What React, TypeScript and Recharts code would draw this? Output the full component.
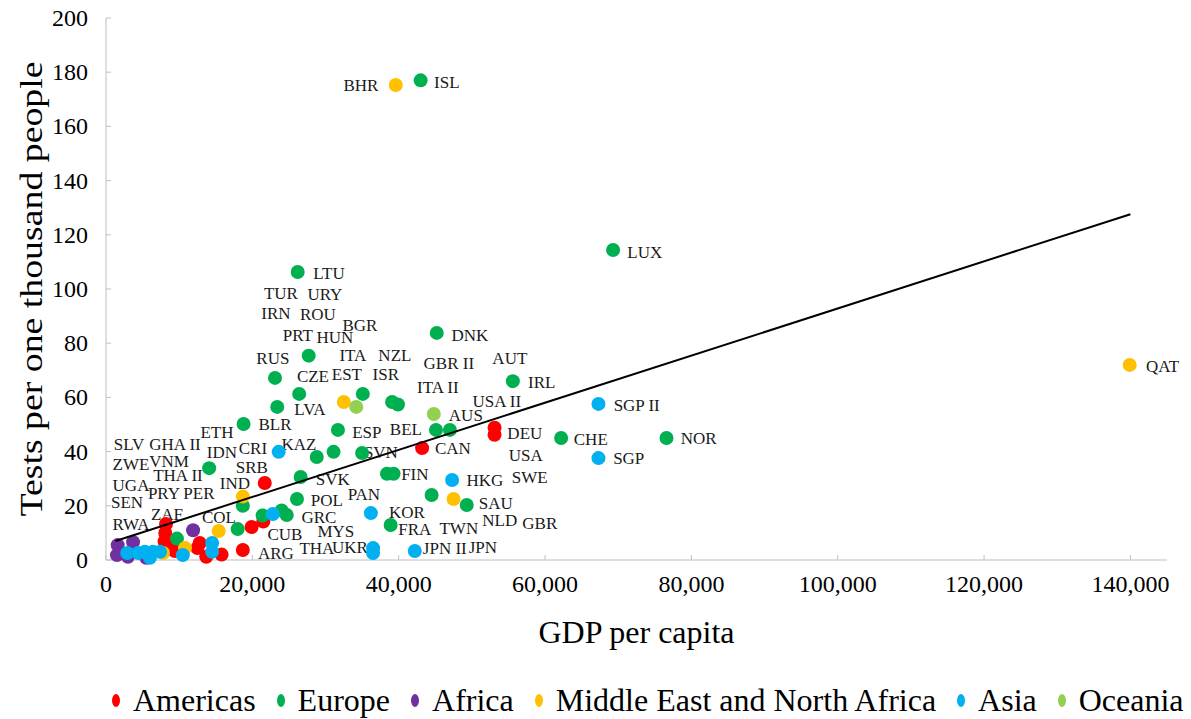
import React from "react";
import { ScatterChart, Scatter, XAxis, YAxis } from "recharts";

const FONT = '"Liberation Serif", "Times New Roman", serif';

const xTicks = [0, 20000, 40000, 60000, 80000, 100000, 120000, 140000];
const yTicks = [0, 20, 40, 60, 80, 100, 120, 140, 160, 180, 200];

// [GDP per capita, tests per 1000 people]
const americas: [number, number][] = [
  [53100, 48.8], [53100, 46.2], [43200, 41.3], [21700, 28.4], [21500, 14.2],
  [19900, 12.2], [18700, 3.7], [15800, 2.0], [13700, 1.2], [12800, 6.3],
  [12500, 4.4], [8200, 13.3], [8100, 10.0], [8000, 6.8], [8700, 4.6], [9400, 3.3],
];
const europe: [number, number][] = [
  [43000, 177], [69300, 114.4], [26200, 106.3], [45200, 83.8], [27700, 75.4],
  [23100, 67.2], [26400, 61.3], [55600, 66.0], [35100, 61.3], [39100, 58.3],
  [39900, 57.4], [23400, 56.5], [18800, 50.2], [31700, 48.0], [45100, 48.0],
  [47000, 48.0], [62200, 45.0], [76600, 45.0], [31100, 39.9], [28800, 38.0],
  [35000, 39.5], [38400, 31.8], [39300, 31.8], [26600, 30.6], [44500, 24.0],
  [49300, 20.3], [26100, 22.5], [18700, 20.0], [14100, 33.9], [38900, 12.9],
  [21400, 16.4], [24000, 18.3], [24700, 16.6], [18000, 11.4], [9700, 7.9],
];
const africa: [number, number][] = [
  [11900, 11.0], [3700, 6.6], [1600, 5.5], [1500, 1.8], [3000, 1.2], [5500, 0.8],
];
const mena: [number, number][] = [
  [39600, 175.3], [139900, 72.0], [32500, 58.3], [47500, 22.5], [18700, 23.4],
  [15400, 10.7], [10800, 4.4], [7800, 2.6],
];
const asia: [number, number][] = [
  [67300, 57.6], [67300, 37.6], [23600, 39.9], [47300, 29.5], [36200, 17.3],
  [36500, 4.4], [36500, 2.6], [42200, 3.3], [22800, 17.0], [14500, 6.3],
  [14500, 3.0], [10500, 1.8], [2900, 2.6], [5300, 3.0], [6400, 3.0],
  [7400, 3.0], [6000, 0.8], [4400, 2.6],
];
const oceania: [number, number][] = [[34200, 56.5], [44800, 53.9]];

const trendEnds: [number, number][] = [[1300, 7.0], [140000, 127.6]];

// country labels: [code, x, y] (where the text sits)
const labels: [string, number, number][] = [
  ["BHR", 34830, 175.3], ["ISL", 46580, 176.4], ["LUX", 73630, 113.7],
  ["LTU", 30470, 105.9], ["TUR", 23900, 98.5], ["URY", 29920, 98.2],
  ["IRN", 23220, 91.1], ["ROU", 28960, 90.8], ["BGR", 34700, 86.7],
  ["PRT", 26230, 83.0], ["HUN", 31280, 82.3], ["DNK", 49720, 83.0],
  ["RUS", 22810, 74.5], ["ITA", 33740, 75.6], ["NZL", 39480, 75.6],
  ["GBR II", 46850, 72.7], ["AUT", 55190, 74.5], ["CZE", 28280, 67.9],
  ["EST", 32920, 68.6], ["ISR", 38240, 68.6], ["IRL", 59560, 65.7],
  ["ITA II", 45350, 63.8], ["USA II", 53410, 58.7], ["QAT", 144390, 71.6],
  ["SGP II", 72530, 57.2], ["LVA", 27870, 55.7], ["AUS", 49180, 53.5],
  ["ETH", 15160, 47.2], ["BLR", 23090, 50.2], ["ESP", 35650, 47.2],
  ["BEL", 40980, 48.3], ["DEU", 57240, 46.9], ["CHE", 66250, 44.6],
  ["NOR", 81010, 45.0], ["SLV", 3140, 42.8], ["GHA II", 9430, 42.8],
  ["CRI", 20080, 41.3], ["KAZ", 26370, 42.8], ["CAN", 47400, 41.3],
  ["SVN", 37570, 39.9], ["USA", 57370, 38.7], ["SGP", 71440, 37.6],
  ["ZWE", 3420, 35.4], ["VNM", 8610, 36.5], ["IDN", 15850, 39.9],
  ["THA II", 9840, 31.4], ["SRB", 19940, 34.3], ["FIN", 42210, 31.7],
  ["SWE", 57920, 30.6], ["HKG", 51770, 29.5], ["UGA", 3420, 27.7],
  ["PRY", 7920, 24.7], ["PER", 12700, 24.7], ["IND", 17620, 28.4],
  ["SVK", 31000, 29.9], ["PAN", 35240, 24.4], ["SAU", 53270, 21.0],
  ["SEN", 2870, 21.4], ["POL", 30190, 22.1], ["ZAF", 8330, 17.0],
  ["COL", 15440, 15.9], ["GRC", 29100, 15.9], ["KOR", 41120, 17.7],
  ["TWN", 48220, 11.8], ["NLD", 53820, 14.8], ["GBR", 59290, 13.7],
  ["RWA", 3420, 13.3], ["CUB", 24450, 9.6], ["MYS", 31420, 10.7],
  ["FRA", 42210, 11.4], ["ARG", 23220, 2.6], ["THA", 28820, 4.4],
  ["UKR", 33330, 4.8], ["JPN II", 46300, 4.4], ["JPN", 51500, 4.8],
];

const regions = [
  { name: "Americas", color: "#FF0000", points: americas },
  { name: "Europe", color: "#00B050", points: europe },
  { name: "Africa", color: "#7030A0", points: africa },
  { name: "Middle East and North Africa", color: "#FFC000", points: mena },
  { name: "Asia", color: "#00B0F0", points: asia },
  { name: "Oceania", color: "#92D050", points: oceania },
];

const toRows = (pts: [number, number][]) => pts.map(([x, y]) => ({ x, y }));
const labelRows = labels.map(([name, x, y]) => ({ name, x, y }));

const XTick = (props: any) => {
  const { x, y, payload } = props;
  return (
    <g>
      <line x1={x} y1={y} x2={x} y2={y - 5} stroke="#bfbfbf" />
      <text x={x} y={y + 32} textAnchor="middle" fontFamily={FONT} fontSize={24} fill="#000">
        {payload.value.toLocaleString("en-US")}
      </text>
    </g>
  );
};

const YTick = (props: any) => {
  const { x, y, payload } = props;
  return (
    <g>
      <line x1={x} y1={y} x2={x + 5} y2={y} stroke="#bfbfbf" />
      <text x={x - 18} y={y + 8} textAnchor="end" fontFamily={FONT} fontSize={24} fill="#000">
        {payload.value}
      </text>
    </g>
  );
};

const Legend = () => (
  <div
    style={{
      position: "absolute",
      left: 112,
      top: 680,
      display: "flex",
      alignItems: "center",
      fontFamily: FONT,
      fontSize: 32,
      lineHeight: "40px",
      whiteSpace: "nowrap",
      color: "#000",
    }}
  >
    {regions.map((r) => (
      <div key={r.name} style={{ display: "flex", alignItems: "center", marginRight: 21 }}>
        <span
          style={{
            display: "inline-block",
            width: 8,
            height: 13,
            borderRadius: "50%",
            background: r.color,
            marginRight: 13,
          }}
        />
        <span>{r.name}</span>
      </div>
    ))}
  </div>
);

export default function App() {
  return (
    <div style={{ position: "absolute", left: 0, top: 0, width: 1191, height: 719, background: "#fff" }}>
      <ScatterChart width={1191} height={719} margin={{ top: 18, right: 24, left: 0, bottom: 0 }}>
        <XAxis
          type="number"
          dataKey="x"
          domain={[0, 145000]}
          ticks={xTicks}
          height={159}
          tickSize={0}
          tickMargin={0}
          tickLine={false}
          stroke="#bfbfbf"
          tick={<XTick />}
          label={(p: any) => {
            const vb = p.viewBox;
            return (
              <text x={vb.x + vb.width / 2} y={vb.y + 83} textAnchor="middle" fontFamily={FONT} fontSize={32} fill="#000">
                GDP per capita
              </text>
            );
          }}
        />
        <YAxis
          type="number"
          dataKey="y"
          domain={[0, 200]}
          ticks={yTicks}
          width={106}
          tickSize={0}
          tickMargin={0}
          tickLine={false}
          stroke="#bfbfbf"
          tick={<YTick />}
          label={() => (
            <text
              x={42}
              y={289}
              transform="rotate(-90, 42, 289)"
              textAnchor="middle"
              fontFamily={FONT}
              fontSize={32}
              textLength={455}
              lengthAdjust="spacingAndGlyphs"
              fill="#000"
            >
              Tests per one thousand  people
            </text>
          )}
        />
        <Scatter
          data={labelRows}
          isAnimationActive={false}
          shape={(p: any) => (
            <text
              x={p.cx}
              y={p.cy + 6}
              textAnchor="middle"
              fontFamily={FONT}
              fontSize={17}
              fill="#1a1a1a"
            >
              {p.payload.name}
            </text>
          )}
        />
        {regions.map((r) => (
          <Scatter
            key={r.name}
            name={r.name}
            data={toRows(r.points)}
            isAnimationActive={false}
            shape={(p: any) => <circle cx={p.cx} cy={p.cy} r={7} fill={r.color} />}
          />
        ))}
        <Scatter
          data={toRows(trendEnds)}
          isAnimationActive={false}
          line={{ stroke: "#000", strokeWidth: 2 }}
          shape={() => <g />}
        />
      </ScatterChart>
      <Legend />
    </div>
  );
}
